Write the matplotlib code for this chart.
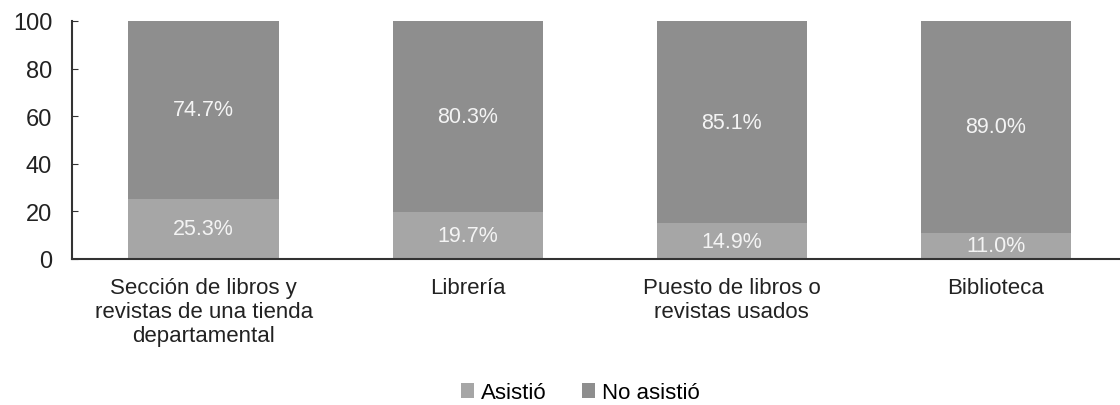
import matplotlib
matplotlib.use("Agg")
import matplotlib.pyplot as plt
import numpy as np

plt.rcParams['font.family'] = ['Liberation Sans', 'DejaVu Sans']

categories = ["Sección de libros y\nrevistas de una tienda\ndepartamental",
              "Librería",
              "Puesto de libros o\nrevistas usados",
              "Biblioteca"]
asistio = [25.3, 19.7, 14.9, 11.0]
no_asistio = [74.7, 80.3, 85.1, 89.0]
yticks = [0, 20, 40, 60, 80, 100]


def main():
    fig = plt.figure(figsize=(11.2, 4.06), dpi=100)
    ax = fig.add_axes([0.064, 0.36, 0.936, 0.586])
    x = np.arange(len(categories))
    w = 0.57
    c1, c2 = "#a6a6a6", "#8e8e8e"
    b1 = ax.bar(x, asistio, w, color=c1, label="Asistió")
    b2 = ax.bar(x, no_asistio, w, bottom=asistio, color=c2, label="No asistió")

    for i in range(len(categories)):
        ax.text(x[i], asistio[i] / 2, f"{asistio[i]:.1f}%", ha="center", va="center",
                color="#f4f4f4", fontsize=15.5)
        ax.text(x[i], asistio[i] + no_asistio[i] / 2, f"{no_asistio[i]:.1f}%",
                ha="center", va="center", color="#f4f4f4", fontsize=15.5)

    ax.set_xlim(-0.5, 3.47)
    ax.set_ylim(0, 100)
    ax.set_yticks(yticks)
    ax.set_xticks(x)
    ax.set_xticklabels(categories, fontsize=16, color="#222222", linespacing=1.2)
    ax.tick_params(axis="x", length=0, pad=13)
    ax.tick_params(axis="y", direction="in", length=4, labelsize=17,
                   colors="#333333", pad=14)
    for lbl in ax.get_yticklabels():
        lbl.set_color("#222222")
    ax.spines["top"].set_visible(False)
    ax.spines["right"].set_visible(False)
    ax.spines["left"].set_color("#333333")
    ax.spines["bottom"].set_color("#333333")
    ax.spines["left"].set_linewidth(1.5)
    ax.spines["bottom"].set_linewidth(1.5)

    fig.legend(handles=[b1, b2], loc="center", bbox_to_anchor=(0.518, 0.03),
               ncol=2, frameon=False, fontsize=16, handlelength=0.6,
               handleheight=0.6, handletextpad=0.3, columnspacing=1.6)

    fig.savefig("out.png", dpi=100)


if __name__ == "__main__":
    main()
